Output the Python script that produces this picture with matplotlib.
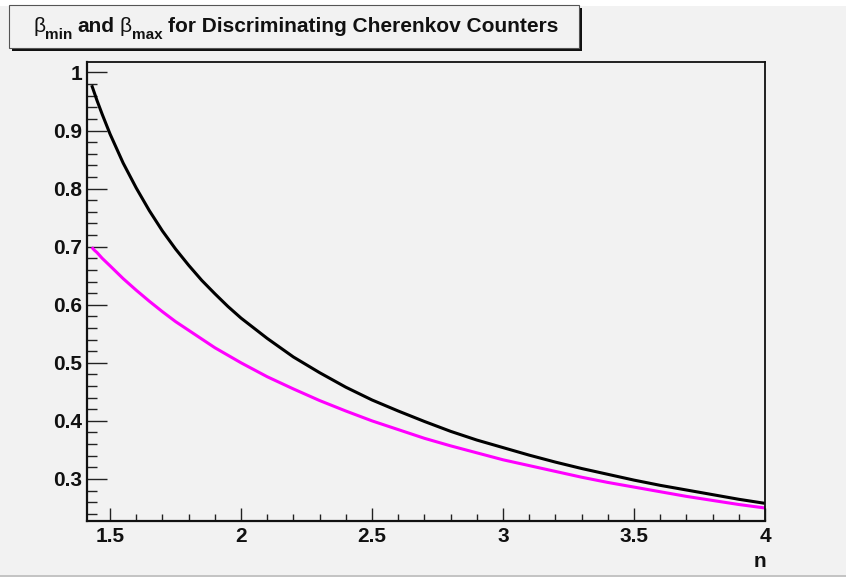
import matplotlib
matplotlib.use("Agg")
import matplotlib.pyplot as plt
from matplotlib.patches import Rectangle
from matplotlib.ticker import MultipleLocator

plt.rcParams['font.family'] = ['Liberation Sans', 'DejaVu Sans']

# refractive index n
n = [1.43, 1.44, 1.45, 1.47, 1.50, 1.55, 1.60, 1.65, 1.70, 1.75, 1.80, 1.85,
     1.90, 1.95, 2.00, 2.10, 2.20, 2.30, 2.40, 2.50, 2.60, 2.70, 2.80, 2.90,
     3.00, 3.10, 3.20, 3.30, 3.40, 3.50, 3.60, 3.70, 3.80, 3.90, 4.00]

# upper velocity limit (black)
beta_max = [0.978, 0.965, 0.952, 0.928, 0.894, 0.844, 0.801, 0.762, 0.727,
            0.696, 0.668, 0.642, 0.619, 0.597, 0.577, 0.542, 0.510, 0.483,
            0.458, 0.436, 0.417, 0.399, 0.382, 0.367, 0.354, 0.341, 0.329,
            0.318, 0.308, 0.298, 0.289, 0.281, 0.273, 0.265, 0.258]

# lower velocity limit (magenta)
beta_min = [0.699, 0.694, 0.690, 0.680, 0.667, 0.645, 0.625, 0.606, 0.588,
            0.571, 0.556, 0.541, 0.526, 0.513, 0.500, 0.476, 0.455, 0.435,
            0.417, 0.400, 0.385, 0.370, 0.357, 0.345, 0.333, 0.323, 0.313,
            0.303, 0.294, 0.286, 0.278, 0.270, 0.263, 0.256, 0.250]

x_ticks = [1.5, 2, 2.5, 3, 3.5, 4]
x_labels = ['1.5', '2', '2.5', '3', '3.5', '4']
y_ticks = [0.3, 0.4, 0.5, 0.6, 0.7, 0.8, 0.9, 1.0]
y_labels = ['0.3', '0.4', '0.5', '0.6', '0.7', '0.8', '0.9', '1']

# title pieces: text, size, weight, baseline drop (px), gap after (px)
title_parts = [('\u03b2', 15, 'normal', 0, 0),
               ('min', 11, 'bold', 7, 5),
               ('and', 15, 'bold', 0, 5),
               ('\u03b2', 15, 'normal', 0, 0),
               ('max', 11, 'bold', 7, 6),
               ('for Discriminating Cherenkov Counters', 15, 'bold', 0, 0)]

W, H = 846, 577
BG = '#f2f2f2'
INK = '#111111'

fig = plt.figure(figsize=(W / 100, H / 100), dpi=100, facecolor='white')


def px(x0, y0, x1, y1):
    # pixel box (top-left origin) -> figure fraction rectangle
    return x0 / W, 1 - y1 / H, (x1 - x0) / W, (y1 - y0) / H


# canvas
l, b, w, h = px(0, 6, W, 575)
fig.add_artist(Rectangle((l, b), w, h, transform=fig.transFigure,
                         facecolor=BG, edgecolor='none', zorder=-10))
l, b, w, h = px(0, 575, W, 577)
fig.add_artist(Rectangle((l, b), w, h, transform=fig.transFigure,
                         facecolor='#c4c4c4', edgecolor='none', zorder=-10))

ax = fig.add_axes(px(87, 62, 765, 521))
ax.set_facecolor(BG)

ax.plot(n, beta_max, color='black', lw=2.2, solid_capstyle='butt')
ax.plot(n, beta_min, color='#ff00ff', lw=2.2, solid_capstyle='butt')

ax.set_xlim(1.412, 4.0)
ax.set_ylim(0.2276, 1.018)

ax.set_xticks(x_ticks)
ax.set_xticklabels(x_labels)
ax.set_yticks(y_ticks)
ax.set_yticklabels(y_labels)
ax.xaxis.set_minor_locator(MultipleLocator(0.1))
ax.yaxis.set_minor_locator(MultipleLocator(0.02))

ax.tick_params(axis='both', which='both', direction='in', colors='#222222',
               width=1.0, top=False, right=False, labelsize=15)
ax.tick_params(axis='x', which='major', length=9.5, pad=4)
ax.tick_params(axis='x', which='minor', length=5)
ax.tick_params(axis='y', which='major', length=14.5, pad=3.5)
ax.tick_params(axis='y', which='minor', length=7.5)
for lab in ax.get_xticklabels() + ax.get_yticklabels():
    lab.set_fontweight('bold')
    lab.set_color(INK)

for side in ['top', 'right']:
    ax.spines[side].set_linewidth(1.3)
    ax.spines[side].set_color(INK)
for side in ['left', 'bottom']:
    ax.spines[side].set_linewidth(1.6)
    ax.spines[side].set_color(INK)

fig.text(766 / W, 1 - 567 / H, 'n', ha='right', va='baseline',
         fontsize=15, fontweight='bold', color=INK)

# title box with drop shadow
l, b, w, h = px(12, 8, 582, 51)
fig.add_artist(Rectangle((l, b), w, h, transform=fig.transFigure,
                         facecolor=INK, edgecolor='none', zorder=5))
l, b, w, h = px(9, 5, 579, 48)
fig.add_artist(Rectangle((l, b), w, h, transform=fig.transFigure,
                         facecolor=BG, edgecolor='#555555', lw=0.8, zorder=6))

# title text, laid out piece by piece
renderer = fig.canvas.get_renderer()
x_cur = 33
for txt, size, weight, drop, gap in title_parts:
    t = fig.text(x_cur / W, 1 - (32 + drop) / H, txt, ha='left',
                 va='baseline', fontsize=size, fontweight=weight,
                 color=INK, zorder=7)
    x_cur += t.get_window_extent(renderer).width + gap

fig.savefig('out.png', dpi=100, facecolor=fig.get_facecolor())
